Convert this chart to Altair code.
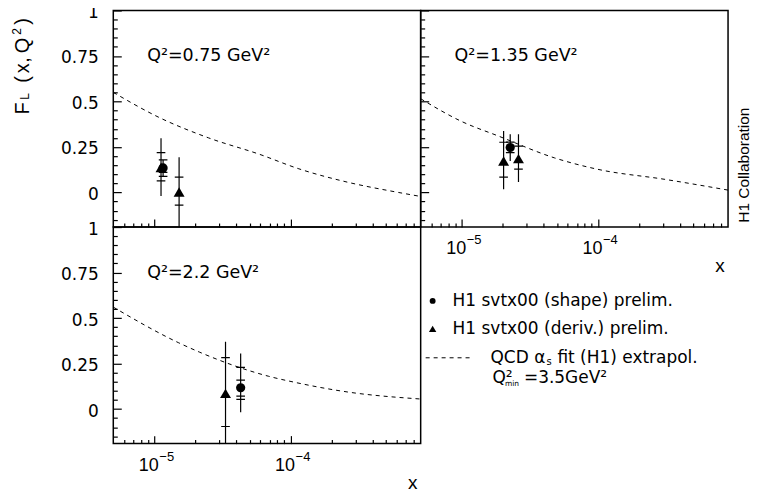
import altair as alt
import pandas as pd

W, H = 308, 217
X_DOMAIN = [5e-6, 9e-4]
Y_DOMAIN = [-0.19, 1.0]
X_MAJOR = [1e-5, 1e-4]
X_MINOR = [6e-6, 7e-6, 8e-6, 9e-6, 2e-5, 3e-5, 4e-5, 5e-5, 6e-5, 7e-5, 8e-5, 9e-5,
           2e-4, 3e-4, 4e-4, 5e-4, 6e-4, 7e-4, 8e-4]
Y_MAJOR = [0.0, 0.25, 0.5, 0.75, 1.0]
Y_MINOR = [-0.15, -0.1, -0.05, 0.05, 0.1, 0.15, 0.2, 0.3, 0.35, 0.4, 0.45,
           0.55, 0.6, 0.65, 0.7, 0.8, 0.85, 0.9, 0.95]
DECADE_BASE = ["10", "10"]
DECADE_EXP = ["\u22125", "\u22124"]

PANEL_LABELS = ["Q\u00b2=0.75 GeV\u00b2", "Q\u00b2=1.35 GeV\u00b2", "Q\u00b2=2.2 GeV\u00b2"]

# QCD fit curves (dashed)
CURVE1_X = [5e-6, 1.1e-5, 2.5e-5, 5.9e-5, 1.15e-4, 2.6e-4, 6.2e-4, 9e-4]
CURVE1_Y = [0.55, 0.41, 0.30, 0.21, 0.13, 0.057, 0.0, -0.022]
CURVE2_X = [5e-6, 1e-5, 1.86e-5, 4.8e-5, 1e-4, 3.1e-4, 9e-4]
CURVE2_Y = [0.515, 0.39, 0.31, 0.19, 0.127, 0.072, 0.013]
CURVE3_X = [5e-6, 1.5e-5, 2.14e-5, 6.9e-5, 1.07e-4, 2.6e-4, 9e-4]
CURVE3_Y = [0.56, 0.365, 0.313, 0.18, 0.147, 0.094, 0.055]

# data points
PT_PANEL = [1, 1, 1, 2, 2, 2, 3, 3]
PT_SERIES = ["deriv", "shape", "deriv", "deriv", "shape", "deriv", "deriv", "shape"]
PT_X = [1.12e-5, 1.16e-5, 1.52e-5, 2.03e-5, 2.27e-5, 2.61e-5, 3.33e-5, 4.3e-5]
PT_Y = [0.137, 0.135, 0.003, 0.173, 0.247, 0.186, 0.086, 0.117]
PT_LO = [-0.019, 0.088, -0.19, 0.018, 0.173, 0.058, -0.19, -0.018]
PT_HI = [0.298, 0.179, 0.194, 0.338, 0.32, 0.32, 0.37, 0.305]

# error-bar tick marks
TK_PANEL = [1, 1, 1, 1, 1, 1, 1, 2, 2, 2, 2, 2, 2, 3, 3, 3, 3, 3, 3]
TK_X = [1.12e-5, 1.12e-5, 1.16e-5, 1.16e-5, 1.16e-5, 1.52e-5, 1.52e-5,
        2.03e-5, 2.03e-5, 2.27e-5, 2.27e-5, 2.61e-5, 2.61e-5,
        3.33e-5, 3.33e-5, 4.3e-5, 4.3e-5, 4.3e-5, 4.3e-5]
TK_Y = [0.219, 0.064, 0.179, 0.110, 0.088, 0.084, -0.070,
        0.276, 0.084, 0.277, 0.219, 0.255, 0.128,
        0.282, -0.096, 0.229, 0.159, 0.071, 0.053]

LEGEND_TEXT = ["H1 svtx00 (shape) prelim.", "H1 svtx00 (deriv.) prelim."]

points = pd.DataFrame({"panel": PT_PANEL, "series": PT_SERIES, "x": PT_X,
                       "y": PT_Y, "lo": PT_LO, "hi": PT_HI})
ticks = pd.DataFrame({"panel": TK_PANEL, "x": TK_X, "y": TK_Y})

NUMFONT = "Liberation Sans"
TXTFONT = "DejaVu Sans"


def xscale():
    return alt.Scale(type="log", domain=X_DOMAIN, nice=False)


def yscale():
    return alt.Scale(domain=Y_DOMAIN, nice=False, zero=False)


def major_x():
    return alt.Axis(orient="bottom", values=X_MAJOR, tickSize=8, offset=-8, domain=False,
                    grid=False, labels=False, title="", tickColor="black", tickWidth=1.2)


def minor_x():
    return alt.Axis(orient="bottom", values=X_MINOR, tickSize=4, offset=-4, domain=False,
                    grid=False, labels=False, title="", tickColor="black", tickWidth=1.2)


def major_y(labels):
    return alt.Axis(orient="left", values=Y_MAJOR, tickSize=8, offset=-8, domain=False,
                    grid=False, labels=labels, labelPadding=15, labelOffset=2,
                    labelExpr="'' + datum.value",
                    labelFont=TXTFONT, labelFontSize=17, labelColor="black",
                    title="", tickColor="black", tickWidth=1.2)


def minor_y():
    return alt.Axis(orient="left", values=Y_MINOR, tickSize=4, offset=-4, domain=False,
                    grid=False, labels=False, title="", tickColor="black", tickWidth=1.2)


def text(t, x, y, size, font=TXTFONT, angle=0, align="left", baseline="middle"):
    return alt.Chart(pd.DataFrame({"t": [t]})).mark_text(
        align=align, baseline=baseline, font=font, fontSize=size, angle=angle, color="black"
    ).encode(x=alt.value(x), y=alt.value(y), text="t:N")


def panel(i, cx, cy, label, ylabels, xlabels, extras):
    cdf = pd.DataFrame({"x": cx, "y": cy})
    curve = alt.Chart(cdf).mark_line(strokeDash=[4, 4], color="black", strokeWidth=1,
                                     interpolate="monotone", clip=True).encode(
        x=alt.X("x:Q", scale=xscale(), axis=major_x()),
        y=alt.Y("y:Q", scale=yscale(), axis=major_y(ylabels)))
    pdf = points[points.panel == i]
    tdf = ticks[ticks.panel == i]
    bars = alt.Chart(pdf).mark_rule(color="black", strokeWidth=1.2, clip=True).encode(
        x=alt.X("x:Q", scale=xscale(), axis=minor_x()),
        y=alt.Y("lo:Q", scale=yscale(), axis=minor_y()),
        y2="hi:Q")
    tk = alt.Chart(tdf).mark_point(shape="M-1,0L1,0", size=75, filled=False, color="black",
                                   strokeWidth=1.2, opacity=1, clip=True).encode(
        x=alt.X("x:Q", scale=xscale(), axis=None),
        y=alt.Y("y:Q", scale=yscale(), axis=None))
    mk = alt.Chart(pdf).mark_point(filled=True, color="black", opacity=1, clip=True).encode(
        x=alt.X("x:Q", scale=xscale(), axis=None),
        y=alt.Y("y:Q", scale=yscale(), axis=None),
        shape=alt.Shape("series:N", scale=alt.Scale(domain=["shape", "deriv"],
                                                    range=["circle", "triangle-up"]), legend=None),
        size=alt.Size("series:O", scale=alt.Scale(domain=["shape", "deriv"], range=[85, 120]),
                      legend=None))
    layers = [curve, bars, tk, mk, text(label, 34, 46, 17.5)]
    if xlabels:
        ddf = pd.DataFrame({"x": X_MAJOR, "base": DECADE_BASE, "exp": DECADE_EXP})
        layers.append(alt.Chart(ddf).mark_text(align="right", baseline="middle", dx=4.5,
                                               font=NUMFONT, fontSize=18, color="black").encode(
            x=alt.X("x:Q", scale=xscale(), axis=None), y=alt.value(H + 22), text="base:N"))
        layers.append(alt.Chart(ddf).mark_text(align="left", baseline="middle", dx=5,
                                               font=NUMFONT, fontSize=13, color="black").encode(
            x=alt.X("x:Q", scale=xscale(), axis=None), y=alt.value(H + 13), text="exp:N"))
        layers.append(text("x", 300, 256, 19, font=NUMFONT, align="center"))
    layers += extras
    return alt.layer(*layers).resolve_axis(x="independent", y="independent").properties(
        width=W, height=H)


# y-axis title pieces  F_L(x,Q^2) (rotated)
ytitle = [
    text("F", -84, 98, 20, font=NUMFONT, angle=270, align="center", baseline="alphabetic"),
    text("L", -84, 86, 12, font=NUMFONT, angle=270, align="center", baseline="alphabetic"),
    text("(", -84, 69, 20, font=NUMFONT, angle=270, align="center", baseline="alphabetic"),
    text("x", -84, 58, 20, font=NUMFONT, angle=270, align="center", baseline="alphabetic"),
    text(",", -84, 49.5, 20, font=NUMFONT, angle=270, align="center", baseline="alphabetic"),
    text("Q", -84, 35, 20, font=NUMFONT, angle=270, align="center", baseline="alphabetic"),
    text("2", -92, 21, 12, font=NUMFONT, angle=270, align="center", baseline="alphabetic"),
    text(")", -84, 11, 20, font=NUMFONT, angle=270, align="center", baseline="alphabetic"),
]

p1 = panel(1, CURVE1_X, CURVE1_Y, PANEL_LABELS[0], True, False, ytitle)
p2 = panel(2, CURVE2_X, CURVE2_Y, PANEL_LABELS[1], False, True,
           [text("H1 Collaboration", 324, 155, 15.5, font=NUMFONT, angle=270, align="center")])
p3 = panel(3, CURVE3_X, CURVE3_Y, PANEL_LABELS[2], True, True, [])

one = pd.DataFrame({"a": [0]})
leg = alt.layer(
    alt.Chart(one).mark_point(shape="circle", filled=True, color="black", size=35, opacity=1).encode(
        x=alt.value(12), y=alt.value(74)),
    text(LEGEND_TEXT[0], 32, 74, 17),
    alt.Chart(one).mark_point(shape="triangle-up", filled=True, color="black", size=55, opacity=1).encode(
        x=alt.value(12), y=alt.value(102)),
    text(LEGEND_TEXT[1], 32, 102, 17),
    alt.Chart(one).mark_rule(strokeDash=[4, 4], color="black", strokeWidth=1).encode(
        x=alt.value(5), x2=alt.value(52), y=alt.value(131)),
    text("QCD \u03b1", 70, 131, 17),
    text("s", 126, 135, 10),
    text("fit (H1) extrapol.", 137, 131, 17),
    text("Q\u00b2", 72, 151, 17),
    text("min", 84.5, 157, 7.5),
    text("=3.5GeV\u00b2", 103.5, 151, 17),
).properties(width=W, height=H, view=alt.ViewBackground(stroke="transparent"))

chart = alt.concat(p1, p2, p3, leg, columns=2, spacing=0, bounds="flush").properties(
    padding={"left": 2.5, "top": -6, "right": -3, "bottom": -1}
).configure_view(stroke="black", strokeWidth=1.5)

chart.save("out.html", embed_options={"renderer": "svg", "actions": False})
